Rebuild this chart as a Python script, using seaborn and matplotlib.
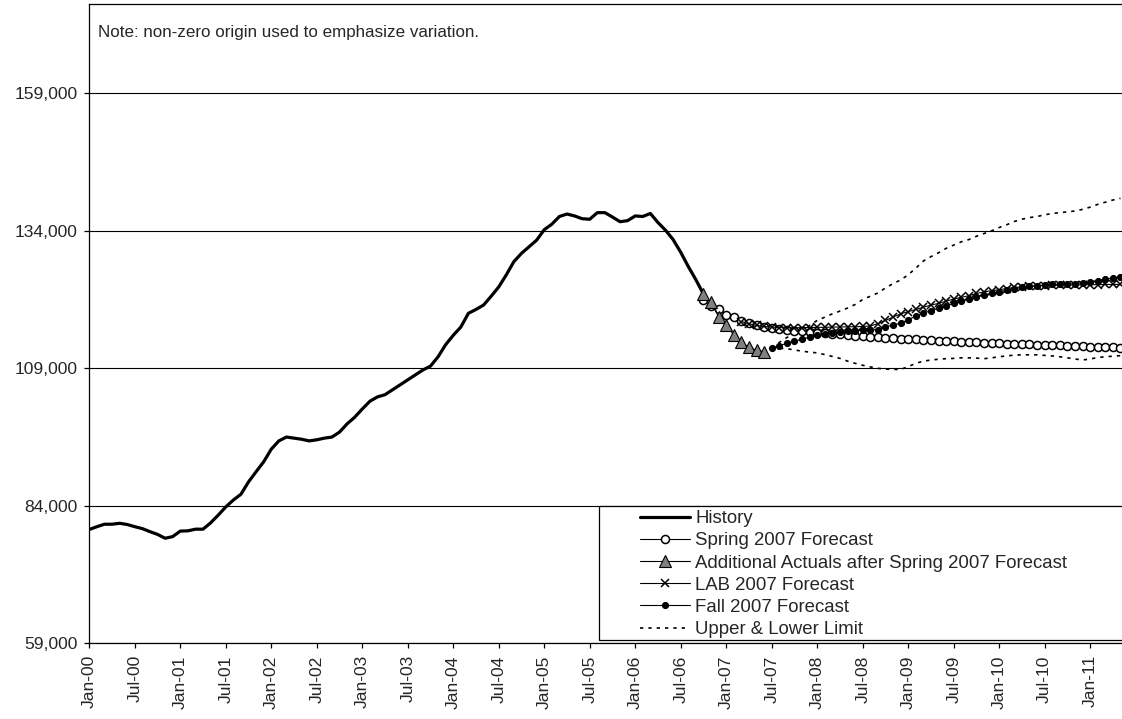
import matplotlib
matplotlib.use("Agg")
import matplotlib.pyplot as plt
from matplotlib.patches import Rectangle
import seaborn as sns
import numpy as np

# ---------------- data (months since Jan-2000) ----------------
history_start = 0
history = [79700, 80200, 80650, 80650, 80820, 80600, 80200, 79850, 79300, 78800,
           78100, 78400, 79400, 79450, 79750, 79750, 80900, 82300, 83800, 85050,
           86100, 88350, 90200, 92000, 94300, 95800, 96500, 96300, 96100, 95800,
           96000, 96300, 96500, 97400, 98900, 100100, 101600, 103000, 103800, 104200,
           105100, 106000, 106900, 107800, 108700, 109400, 111100, 113300, 115000, 116500,
           119000, 119700, 120500, 122100, 123800, 126000, 128400, 129900, 131100, 132300,
           134200, 135200, 136600, 137050, 136700, 136200, 136100, 137300, 137300, 136500,
           135650, 135850, 136700, 136600, 137150, 135500, 134100, 132400, 130100, 127500,
           125100, 122500]

actuals_start = 81
actuals = [122500, 121000, 118400, 116900, 115050, 113800, 112800, 112300, 112000]

spring_start = 81
spring = [121500, 120300, 119700, 118700, 118250, 117650, 117200, 116850, 116550, 116250,
          116100, 115950, 115800, 115700, 115550, 115450, 115350, 115250, 115150, 115050,
          114950, 114850, 114750, 114650, 114550, 114500, 114400, 114350, 114250, 114200,
          114100, 114050, 113950, 113900, 113850, 113800, 113700, 113650, 113600, 113550,
          113500, 113450, 113400, 113350, 113300, 113250, 113200, 113150, 113100, 113050,
          113000, 112950, 112900, 112850, 112800, 112750]

lab_start = 86
lab = [117500, 117100, 116800, 116600, 116500, 116400, 116350, 116350, 116400, 116400,
       116450, 116450, 116500, 116500, 116550, 116550, 116600, 116700, 117100, 117700,
       118300, 118900, 119300, 119700, 120100, 120500, 120800, 121200, 121600, 121900,
       122200, 122600, 122900, 123100, 123300, 123500, 123700, 123800, 123900, 124000,
       124050, 124100, 124100, 124150, 124150, 124200, 124200, 124200, 124250, 124250,
       124250]

fall_start = 90
fall = [112700, 113100, 113550, 113950, 114250, 114700, 115100, 115300, 115500, 115650,
        115750, 115850, 115900, 115950, 116050, 116500, 116900, 117200, 117800, 118500,
        119000, 119500, 119900, 120350, 120800, 121200, 121600, 122000, 122300, 122600,
        122900, 123200, 123450, 123700, 123900, 124000, 124150, 124250, 124300, 124350,
        124400, 124550, 124750, 124950, 125200, 125450, 125650]

limit_start = 90
upper = [112700, 113700, 114600, 115200, 115800, 116800, 117700, 118300, 118900, 119400,
         119950, 120600, 121500, 122100, 122700, 123600, 124400, 125050, 126000, 127200,
         128500, 129300, 130000, 130800, 131400, 132000, 132400, 133000, 133500, 134000,
         134600, 135100, 135700, 136100, 136400, 136600, 136900, 137150, 137300, 137450,
         137600, 137900, 138300, 138800, 139200, 139600, 139900]
lower = [112700, 112650, 112550, 112350, 112100, 111950, 111800, 111500, 111150, 110800,
         110300, 109900, 109550, 109250, 109000, 108850, 108800, 108800, 109300, 109900,
         110300, 110500, 110650, 110750, 110800, 110900, 110900, 110850, 110750, 110900,
         111100, 111250, 111400, 111450, 111450, 111450, 111350, 111250, 111100, 110900,
         110700, 110500, 110700, 110950, 111100, 111200, 111300]

xtick_labels = ["Jan-00", "Jul-00", "Jan-01", "Jul-01", "Jan-02", "Jul-02", "Jan-03", "Jul-03",
                "Jan-04", "Jul-04", "Jan-05", "Jul-05", "Jan-06", "Jul-06", "Jan-07", "Jul-07",
                "Jan-08", "Jul-08", "Jan-09", "Jul-09", "Jan-10", "Jul-10", "Jan-11"]
yticks = [59000, 84000, 109000, 134000, 159000]
note = "Note: non-zero origin used to emphasize variation."

# ---------------- style ----------------
sns.set_style("ticks")
plt.rcParams["font.family"] = ["Liberation Sans", "DejaVu Sans"]
FS = 12.6
LFS = 13.4

W, H = 1122, 719
fig = plt.figure(figsize=(W / 100, H / 100), dpi=100)
ax = fig.add_axes([89.3 / W, (H - 643.3) / H, 1 - 89.3 / W, (643.3 - 4) / H])


def xs(start, vals):
    return np.arange(start, start + len(vals))


lw_thin = 0.8
sns.lineplot(x=xs(history_start, history), y=history, ax=ax, color="black",
             lw=2.3, label="History", zorder=3)
sns.lineplot(x=xs(spring_start, spring), y=spring, ax=ax, color="black", lw=lw_thin,
             marker="o", markersize=5.8, markerfacecolor="white", markeredgecolor="black",
             markeredgewidth=1.1, label="Spring 2007 Forecast", zorder=4)
sns.lineplot(x=xs(actuals_start, actuals), y=actuals, ax=ax, color="black", lw=lw_thin,
             marker="^", markersize=8.5, markerfacecolor="#808080", markeredgecolor="black",
             markeredgewidth=0.8, label="Additional Actuals after Spring 2007 Forecast", zorder=7)
sns.lineplot(x=xs(lab_start, lab), y=lab, ax=ax, color="black", lw=lw_thin,
             marker="x", markersize=6.2, markeredgewidth=1.1, markeredgecolor="black",
             markerfacecolor="black", label="LAB 2007 Forecast", zorder=5)
sns.lineplot(x=xs(fall_start, fall), y=fall, ax=ax, color="black", lw=lw_thin,
             marker="o", markersize=4.4, markerfacecolor="black", markeredgecolor="black",
             label="Fall 2007 Forecast", zorder=6)
sns.lineplot(x=xs(limit_start, upper), y=upper, ax=ax, color="black", lw=1.2,
             linestyle=(0, (2.0, 3.0)), label="Upper & Lower Limit", zorder=2)
sns.lineplot(x=xs(limit_start, lower), y=lower, ax=ax, color="black", lw=1.2,
             linestyle=(0, (2.0, 3.0)), label="_nolegend_", zorder=2)

# ---------------- axes ----------------
ax.set_xlim(0, 136.2)
ax.set_ylim(59000, 175236)
ax.set_xticks(np.arange(0, 6 * len(xtick_labels), 6))
ax.set_xticklabels(xtick_labels, rotation=90, fontsize=FS)
ax.set_yticks(yticks)
ax.set_yticklabels([f"{v:,}" for v in yticks], fontsize=FS)
ax.tick_params(axis="both", direction="out", length=3.6, width=0.9, color="black", pad=5)
ax.tick_params(axis="x", pad=5)
ax.yaxis.grid(True, color="black", lw=0.8)
ax.xaxis.grid(False)
ax.set_axisbelow(True)
for s in ["left", "bottom", "top"]:
    ax.spines[s].set_visible(True)
    ax.spines[s].set_color("black")
    ax.spines[s].set_linewidth(0.9)
ax.spines["right"].set_visible(False)
ax.set_xlabel("")
ax.set_ylabel("")

ax.text(98 / W, 1 - 32 / H, note, transform=fig.transFigure, fontsize=FS * 0.97,
        va="center", ha="left")

# ---------------- legend ----------------
handles, labels = ax.get_legend_handles_labels()
if ax.get_legend() is not None:
    ax.get_legend().remove()
frame = Rectangle((599 / W, (H - 640) / H), (W - 599 + 10) / W, (640 - 505.7) / H,
                  transform=fig.transFigure, facecolor="white", edgecolor="black",
                  lw=0.9, zorder=1)
fig.add_artist(frame)
leg = fig.legend(handles, labels, loc="upper left",
                 bbox_to_anchor=(640 / W, 1 - 510 / H), frameon=False, fontsize=LFS,
                 handlelength=2.7, handletextpad=0.27, labelspacing=0.28,
                 borderpad=0, borderaxespad=0)
leg.set_zorder(6)

fig.savefig("out.png", dpi=100)
